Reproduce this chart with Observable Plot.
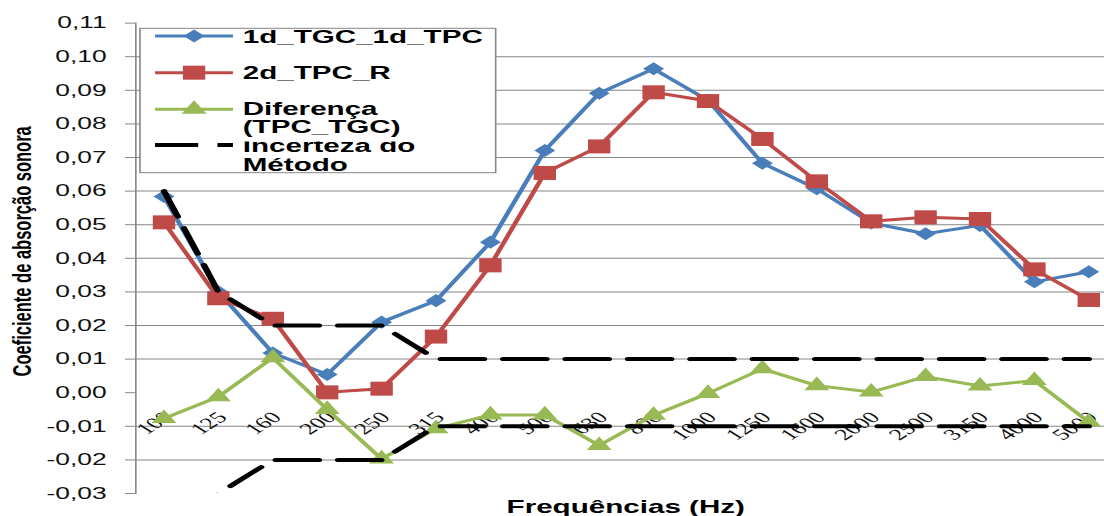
<!DOCTYPE html>
<html>
<head>
<meta charset="utf-8">
<script src="https://cdn.jsdelivr.net/npm/d3@7"></script>
<script src="https://cdn.jsdelivr.net/npm/@observablehq/plot@0.6"></script>
<style>
  html, body { margin: 0; padding: 0; background: white; overflow: hidden; }
  #chart { width: 1104px; height: 516px; }
</style>
</head>
<body>
<div id="chart"></div>
<script>
// valores (coeficiente de absorção sonora)
const freqs = ["100", "125", "160", "200", "250", "315", "400", "500", "630", "800", "1000", "1250", "1600", "2000", "2500", "3150", "4000", "5000"];
const tgcTpc = [0.0584, 0.0300, 0.0118, 0.0054, 0.0210, 0.0274, 0.0448, 0.0721, 0.0891, 0.0964, 0.0870, 0.0683, 0.0607, 0.0505, 0.0473, 0.0498, 0.0330, 0.0360];
const tpcR = [0.0507, 0.0281, 0.0220, 0.0001, 0.0012, 0.0167, 0.0379, 0.0654, 0.0733, 0.0894, 0.0868, 0.0755, 0.0629, 0.0510, 0.0522, 0.0517, 0.0367, 0.0276];
const diferenca = [-0.0077, -0.0012, 0.0104, -0.0050, -0.0197, -0.0107, -0.0066, -0.0066, -0.0157, -0.0067, -0.0002, 0.0071, 0.0021, 0.0002, 0.0048, 0.0020, 0.0036, -0.0087];
const incertezaSup = [0.06, 0.03, 0.02, 0.02, 0.02, 0.01, 0.01, 0.01, 0.01, 0.01, 0.01, 0.01, 0.01, 0.01, 0.01, 0.01, 0.01, 0.01];
const incertezaInf = [-0.06, -0.03, -0.02, -0.02, -0.02, -0.01, -0.01, -0.01, -0.01, -0.01, -0.01, -0.01, -0.01, -0.01, -0.01, -0.01, -0.01, -0.01];
const yTicks = [-0.03, -0.02, -0.01, 0, 0.01, 0.02, 0.03, 0.04, 0.05, 0.06, 0.07, 0.08, 0.09, 0.10, 0.11];
const gridValues = [-0.02, -0.01, 0.01, 0.02, 0.03, 0.04, 0.05, 0.06, 0.07, 0.08, 0.09, 0.10];

const serie = (arr) => freqs.map((f, i) => ({freq: f, value: arr[i]}));
const azul = serie(tgcTpc);
const vermelho = serie(tpcR);
const verde = serie(diferenca);
const incerteza = serie(incertezaSup).map(d => ({...d, lim: "sup"}))
  .concat(serie(incertezaInf).map(d => ({...d, lim: "inf"})));

const cAzul = "#4A7EBB", cVermelho = "#BE4B48", cVerde = "#98B954", cGrade = "#868686";
const sans = "'Liberation Sans', Arial, sans-serif";

// o original está esticado na horizontal: desenha-se a 690 px e estica-se 1.6x
const W = 690, H = 516, ESTICA = 1.6;

const chart = Plot.plot({
  width: W,
  height: H,
  marginLeft: 84.4,
  marginRight: 0,
  marginTop: 22.6,
  marginBottom: 23,
  style: {fontFamily: sans, background: "white", color: "#000"},
  x: {type: "point", domain: freqs, range: [100, 682], padding: 0, axis: null},
  y: {domain: [-0.03, 0.11], axis: null},
  marks: [
    Plot.ruleY(gridValues, {stroke: cGrade, strokeWidth: 1}),
    Plot.frame({anchor: "left", stroke: cGrade}),
    Plot.axisY(yTicks, {
      label: null, tickSize: 6.25, tickPadding: 12, fontSize: 16.5,
      tickFormat: d => d.toFixed(2).replace(".", ","),
      stroke: cGrade, fill: "#111"
    }),
    // rótulos das frequências junto ao eixo (cruza em 0)
    Plot.text(freqs, {
      x: d => d, y: () => 0, text: d => d,
      rotate: -45, textAnchor: "end", dx: 2.5, dy: 22,
      fontFamily: "'Liberation Serif', 'Times New Roman', serif", fontSize: 16, fill: "#111"
    }),
    Plot.line(azul, {x: "freq", y: "value", stroke: cAzul, strokeWidth: 3}),
    Plot.dot(azul, {x: "freq", y: "value", symbol: "diamond2", r: 5.9, fill: cAzul, stroke: null}),
    Plot.line(vermelho, {x: "freq", y: "value", stroke: cVermelho, strokeWidth: 3}),
    Plot.dot(vermelho, {x: "freq", y: "value", symbol: "square", r: 7.9, fill: cVermelho, stroke: null}),
    Plot.line(verde, {x: "freq", y: "value", stroke: cVerde, strokeWidth: 3}),
    Plot.dot(verde, {x: "freq", y: "value", symbol: "triangle", r: 5.8, fill: cVerde, stroke: null}),
    Plot.line(incerteza, {x: "freq", y: "value", z: "lim", stroke: "black", strokeWidth: 4, strokeDasharray: "27,12", clip: true}),
    Plot.text(["Coeficiente de absorção sonora"], {
      text: d => d, frameAnchor: "left", textAnchor: "middle", lineAnchor: "middle",
      dx: -70.8, dy: -7, rotate: -90,
      fontWeight: "bold", fontSize: 16.5, fill: "#000"
    }),
    Plot.text(["Frequências (Hz)"], {
      text: d => d, frameAnchor: "bottom", textAnchor: "middle", lineAnchor: "middle",
      dx: 3.4, dy: 13.8,
      fontWeight: "bold", fontSize: 18.5, fill: "#000"
    })
  ]
});

// legenda (caixa branca sobre a área do gráfico)
const svg = d3.select(chart);
const lg = svg.append("g")
  .attr("font-family", sans)
  .attr("font-weight", "bold")
  .attr("font-size", 18.5)
  .attr("text-anchor", "start")
  .attr("fill", "#000");

lg.append("rect")
  .attr("x", 87.5).attr("y", 28.3).attr("width", 222.3).attr("height", 144.4)
  .attr("fill", "white").attr("stroke", cGrade);

const x1 = 96.9, x2 = 145.6, xm = 121.3, xt = 151.7;

function amostra(y, cor, simbolo, r, dash) {
  const l = lg.append("line")
    .attr("x1", x1).attr("x2", x2).attr("y1", y).attr("y2", y)
    .attr("stroke", cor).attr("stroke-width", dash ? 4 : 3);
  if (dash) l.attr("stroke-dasharray", dash);
  if (simbolo) {
    lg.append("path")
      .attr("d", d3.symbol(simbolo, Math.PI * r * r)())
      .attr("transform", `translate(${xm},${y})`)
      .attr("fill", cor);
  }
}

amostra(36, cAzul, d3.symbolDiamond2, 5.9);
lg.append("text").attr("x", xt).attr("y", 42.7).text("1d_TGC_1d_TPC");

amostra(72.7, cVermelho, d3.symbolSquare, 7.9);
lg.append("text").attr("x", xt).attr("y", 79.3).text("2d_TPC_R");

amostra(145, "black", null, 0, "27,12");
lg.append("text").attr("x", xt).attr("y", 151.7).text("Incerteza do");
lg.append("text").attr("x", xt).attr("y", 171.5).text("Método");
// o topo de "Incerteza do" aparece cortado no original
lg.append("rect").attr("x", xt - 1).attr("y", 134).attr("width", 150).attr("height", 7.5)
  .attr("fill", "white");

amostra(109.3, cVerde, d3.symbolTriangle, 5.8);
lg.append("text").attr("x", xt).attr("y", 115).text("Diferença");
lg.append("text").attr("x", xt).attr("y", 133.5).text("(TPC_TGC)");

// esticar horizontalmente: todo o conteúdo num <g> com scale(1.6, 1)
const g = document.createElementNS("http://www.w3.org/2000/svg", "g");
g.setAttribute("transform", `scale(${ESTICA},1)`);
while (chart.firstChild) g.appendChild(chart.firstChild);
chart.appendChild(g);
chart.removeAttribute("viewBox");
chart.setAttribute("width", 1104);
chart.setAttribute("height", 516);
chart.style.width = "1104px";
chart.style.height = "516px";
chart.style.maxWidth = "none";

document.querySelector("#chart").appendChild(chart);
</script>
</body>
</html>
